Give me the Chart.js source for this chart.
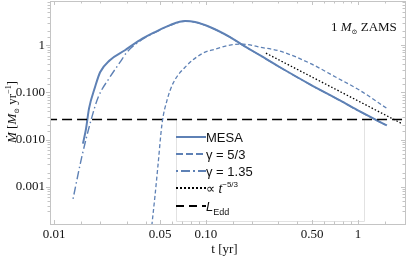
<!DOCTYPE html>
<html>
<head>
<meta charset="utf-8">
<script src="https://cdn.jsdelivr.net/npm/chart.js@4.4.1/dist/chart.umd.min.js"></script>
<style>
  html, body { margin: 0; padding: 0; background: #fff; }
  #wrap { width: 411px; height: 257px; position: relative; }
</style>
</head>
<body>
<div id="wrap"><canvas id="mdotChart"></canvas></div>
<script>
// ===== Data (t in yr, Mdot in Msun/yr) =====
const mesaT    = [0.0155, 0.01625, 0.0170, 0.0186, 0.0201, 0.0233, 0.0293, 0.0368, 0.0462, 0.058, 0.0728, 0.0847, 0.106, 0.144, 0.175, 0.226, 0.307, 0.483, 0.762, 1.03, 1.55];
const mesaMdot = [0.0082, 0.0171, 0.0457, 0.128, 0.267, 0.48, 0.78, 1.28, 1.89, 2.66, 3.24, 3.09, 2.42, 1.48, 1.0, 0.613, 0.34, 0.148, 0.0675, 0.0394, 0.0199];

const gamma53T    = [0.0440, 0.0462, 0.0483, 0.0514, 0.0554, 0.0607, 0.0728, 0.0955, 0.1146, 0.144, 0.175, 0.226, 0.307, 0.483, 0.707, 1.03, 1.55];
const gamma53Mdot = [0.00015, 0.00065, 0.0028, 0.0219, 0.0676, 0.155, 0.34, 0.676, 0.82, 1.0, 1.05, 0.906, 0.745, 0.414, 0.214, 0.110, 0.0457];

const gamma135T    = [0.01334, 0.0153, 0.0175, 0.0195, 0.0233, 0.0272, 0.0302, 0.0368, 0.0462, 0.058, 0.0728, 0.0847, 0.106, 0.144, 0.175, 0.226, 0.307, 0.483, 0.762, 1.03, 1.55];
const gamma135Mdot = [0.000556, 0.00457, 0.0254, 0.078, 0.209, 0.435, 0.71, 1.22, 1.86, 2.62, 3.2, 3.06, 2.4, 1.47, 0.99, 0.61, 0.338, 0.147, 0.067, 0.039, 0.0197];

const powerLawT    = [0.248, 1.94];
const powerLawMdot = [0.676, 0.0219];

const eddT    = [0.009, 2.1];
const eddMdot = [0.0267, 0.0267];

const xTickValues = [0.01, 0.05, 0.1, 0.5, 1];
const xTickLabels = ['0.01', '0.05', '0.10', '0.50', '1'];
const yTickValues = [0.001, 0.01, 0.1, 1];
const yTickLabels = ['0.001', '0.010', '0.100', '1'];

const BLUE = '#5e81b5';
const FRAME = '#c4c4c4';
const SERIF = "'Liberation Serif', 'DejaVu Serif', serif";
const SANS = "'Liberation Sans', Arial, sans-serif";

// legend box corners
const LEG = { left: 176, top: 119, right: 364, bottom: 221 };

function toPoints(xs, ys) {
  return xs.map((x, i) => ({ x: x, y: ys[i] }));
}

function labelFor(values, labels, v) {
  for (let i = 0; i < values.length; i++) {
    if (Math.abs(Math.log10(v) - Math.log10(values[i])) < 1e-6) return labels[i];
  }
  return '';
}

// draw a run of text pieces: [text, font, dy]
function drawRich(ctx, parts, x, y) {
  let cx = x;
  parts.forEach(p => {
    ctx.font = p[1];
    ctx.fillText(p[0], cx, y + (p[2] || 0));
    cx += ctx.measureText(p[0]).width;
  });
  return cx - x;
}
function richWidth(ctx, parts) {
  let w = 0;
  parts.forEach(p => { ctx.font = p[1]; w += ctx.measureText(p[0]).width; });
  return w;
}

// ===== Frame, tick marks, texts and legend =====
const decorPlugin = {
  id: 'decor',
  beforeDatasetsDraw(chart) {
    const ctx = chart.ctx;
    ctx.save();
    ctx.fillStyle = '#fff';
    ctx.fillRect(LEG.left, LEG.top, LEG.right - LEG.left, LEG.bottom - LEG.top);
    ctx.strokeStyle = '#e2e2e2';
    ctx.lineWidth = 1;
    ctx.beginPath();
    ctx.moveTo(LEG.left + 0.5, LEG.top); ctx.lineTo(LEG.left + 0.5, LEG.bottom + 0.5);
    ctx.lineTo(LEG.right + 0.5, LEG.bottom + 0.5); ctx.lineTo(LEG.right + 0.5, LEG.top);
    ctx.stroke();
    ctx.restore();
  },
  afterDatasetsDraw(chart) {
    const ctx = chart.ctx;
    const a = chart.chartArea;
    const xs = chart.scales.x, ys = chart.scales.y;
    ctx.save();

    // frame
    ctx.strokeStyle = FRAME;
    ctx.lineWidth = 1;
    ctx.setLineDash([]);
    ctx.strokeRect(Math.round(a.left) + 0.5, Math.round(a.top) + 0.5,
                   Math.round(a.right - a.left), Math.round(a.bottom - a.top));

    // tick marks
    ctx.beginPath();
    xs.ticks.forEach(t => {
      const px = Math.round(xs.getPixelForValue(t.value)) + 0.5;
      if (px < a.left + 1 || px > a.right - 1) return;
      const major = labelFor(xTickValues, xTickLabels, t.value) !== '';
      const len = major ? 4 : 2.5;
      ctx.moveTo(px, a.bottom); ctx.lineTo(px, a.bottom - len);
      ctx.moveTo(px, a.top); ctx.lineTo(px, a.top + len);
    });
    ys.ticks.forEach(t => {
      const py = Math.round(ys.getPixelForValue(t.value)) + 0.5;
      if (py < a.top + 1 || py > a.bottom - 1) return;
      const major = labelFor(yTickValues, yTickLabels, t.value) !== '';
      const len = major ? 4 : 2.5;
      ctx.moveTo(a.left - len, py); ctx.lineTo(a.left, py);
      ctx.moveTo(a.right, py); ctx.lineTo(a.right - len, py);
    });
    ctx.stroke();

    ctx.fillStyle = '#111';
    ctx.textBaseline = 'alphabetic';
    ctx.textAlign = 'left';

    // annotation
    drawRich(ctx, [
      ['1 ', '13px ' + SERIF],
      ['M', 'italic 13px ' + SERIF],
      ['\u2299', '7px ' + SERIF, 3],
      [' ZAMS', '13px ' + SERIF]
    ], 331, 31);

    // x title
    ctx.font = '13px ' + SERIF;
    ctx.textAlign = 'center';
    ctx.fillText('t [yr]', (a.left + a.right) / 2 - 3, 253);
    ctx.textAlign = 'left';

    // y title (rotated)
    const yParts = [
      ['\u1E40', 'italic 13px ' + SERIF],
      [' [', '13px ' + SERIF],
      ['M', 'italic 13px ' + SERIF],
      ['\u2299', '7px ' + SERIF, 3],
      [' yr', '13px ' + SERIF],
      ['\u22121', '8px ' + SERIF, -5],
      [']', '13px ' + SERIF]
    ];
    ctx.save();
    ctx.translate(16, 112);
    ctx.rotate(-Math.PI / 2);
    drawRich(ctx, yParts, -richWidth(ctx, yParts) / 2, 0);
    ctx.restore();

    // legend entries
    const lx = LEG.left;
    const rows = [
      { y: 137, color: BLUE, width: 2, dash: [], label: [['MESA', '13px ' + SANS]] },
      { y: 154, color: BLUE, width: 2, dash: [7, 3], label: [['\u03B3 = 5/3', '13px ' + SANS]] },
      { y: 171, color: BLUE, width: 2, dash: [2, 3, 9, 3], label: [['\u03B3 = 1.35', '13px ' + SANS]] },
      { y: 188, color: '#000', width: 2, dash: [2, 2], label: [['\u221D ', '13px ' + SANS], ['t', 'italic 13px ' + SANS], ['\u22125/3', '8px ' + SANS, -6]] },
      { y: 206, color: '#000', width: 2, dash: [8, 5], label: [['L', 'italic 13px ' + SANS], ['Edd', '9px ' + SANS, 4]] }
    ];
    rows.forEach(r => {
      ctx.strokeStyle = r.color;
      ctx.lineWidth = r.width;
      ctx.setLineDash(r.dash);
      ctx.beginPath();
      ctx.moveTo(lx, r.y); ctx.lineTo(lx + 30, r.y);
      ctx.stroke();
      ctx.setLineDash([]);
      ctx.fillStyle = '#111';
      drawRich(ctx, r.label, lx + 30, r.y + 5);
    });

    ctx.restore();
  }
};

const chart = new Chart(document.getElementById('mdotChart'), {
  type: 'line',
  data: {
    datasets: [
      {
        label: 'L_Edd', data: toPoints(eddT, eddMdot),
        borderColor: '#000', borderWidth: 1.5, borderDash: [10, 5]
      },
      {
        label: 't^-5/3', data: toPoints(powerLawT, powerLawMdot),
        borderColor: '#000', borderWidth: 1.3, borderDash: [1.5, 2]
      },
      {
        label: 'gamma 5/3', data: toPoints(gamma53T, gamma53Mdot),
        borderColor: BLUE, borderWidth: 1.3, borderDash: [4, 2.5], cubicInterpolationMode: 'monotone'
      },
      {
        label: 'gamma 1.35', data: toPoints(gamma135T, gamma135Mdot),
        borderColor: BLUE, borderWidth: 1.4, borderDash: [1.5, 3, 8, 3], cubicInterpolationMode: 'monotone'
      },
      {
        label: 'MESA', data: toPoints(mesaT, mesaMdot),
        borderColor: BLUE, borderWidth: 2, cubicInterpolationMode: 'monotone'
      }
    ]
  },
  options: {
    responsive: true,
    maintainAspectRatio: false,
    animation: false,
    devicePixelRatio: 1,
    layout: { padding: { top: 1, right: 6, left: 0, bottom: 0 } },
    elements: { point: { radius: 0 }, line: { fill: false } },
    plugins: { legend: { display: false }, tooltip: { enabled: false } },
    scales: {
      x: {
        type: 'logarithmic',
        min: 0.00941,
        max: 2.04,
        afterFit: s => { s.height = 33; s.paddingLeft = 0; s.paddingRight = 0; },
        grid: { display: false, drawTicks: false },
        border: { display: false },
        ticks: {
          autoSkip: false, maxRotation: 0, padding: 3,
          color: '#111', font: { family: SERIF, size: 13 },
          callback: v => labelFor(xTickValues, xTickLabels, v)
        }
      },
      y: {
        type: 'logarithmic',
        min: 0.000163,
        max: 8.6,
        afterFit: s => { s.width = 50; s.paddingTop = 0; s.paddingBottom = 0; },
        grid: { display: false, drawTicks: false },
        border: { display: false },
        ticks: {
          autoSkip: false, padding: 5,
          color: '#111', font: { family: SERIF, size: 13 },
          callback: v => labelFor(yTickValues, yTickLabels, v)
        }
      }
    }
  },
  plugins: [decorPlugin]
});
</script>
</body>
</html>
